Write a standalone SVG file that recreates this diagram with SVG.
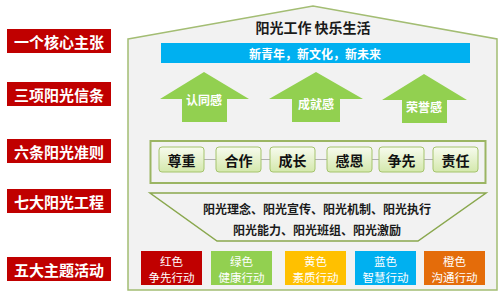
<svg xmlns="http://www.w3.org/2000/svg" width="502" height="294" viewBox="0 0 502 294">
<defs>
<linearGradient id="pg" x1="0" y1="0" x2="0" y2="1">
<stop offset="0" stop-color="#f7fbee"/>
<stop offset="1" stop-color="#d4e8ac"/>
</linearGradient>
</defs>
<style>
text{font-family:"Noto Sans CJK SC","Noto Sans",sans-serif;text-anchor:middle;dominant-baseline:central}
.lab rect{fill:#c00000}
.lab text{fill:#fff;font-size:15px;font-weight:bold}
.arrow polygon{fill:#92d050}
.arrow text{fill:#fff;font-size:12px;font-weight:bold}
.pr rect{fill:url(#pg);stroke:#a5c46d;stroke-width:1}
.pr text{fill:#111;font-size:14px;font-weight:bold}
.act text{fill:#fff;font-size:11.5px}
.dark{fill:#1a1a1a;font-weight:bold}
</style>
<rect width="502" height="294" fill="#fff"/>
<g id="house">
<polygon points="128,39 313,6 497,39 497,290 128,290" fill="#f2f2f2" stroke="#a3bd73" stroke-width="1.5"/>
<text x="313" y="27" class="dark" font-size="14">阳光工作 快乐生活</text>
</g>
<g id="labels">
<g id="l1" class="lab"><rect x="7" y="29" width="104" height="24"/><text x="59" y="41">一个核心主张</text></g>
<g id="l2" class="lab"><rect x="7" y="82" width="104" height="24"/><text x="59" y="94">三项阳光信条</text></g>
<g id="l3" class="lab"><rect x="7" y="139" width="104" height="24"/><text x="59" y="151">六条阳光准则</text></g>
<g id="l4" class="lab"><rect x="7" y="189" width="104" height="24"/><text x="59" y="201">七大阳光工程</text></g>
<g id="l5" class="lab"><rect x="7" y="257" width="104" height="24"/><text x="59" y="269">五大主题活动</text></g>
</g>
<g id="banner">
<rect x="161" y="43" width="309" height="20" fill="#00b0f0"/>
<text x="315" y="53" fill="#fff" font-size="12" font-weight="bold">新青年，新文化，新未来</text>
</g>
<g id="a1" class="arrow"><polygon points="204,72 249,99 227,99 227,122 182,122 182,99 160,99"/><text x="204" y="99">认同感</text></g>
<g id="a2" class="arrow"><polygon points="316,72 363,99 340,99 340,122 292,122 292,99 269,99"/><text x="316" y="103">成就感</text></g>
<g id="a3" class="arrow"><polygon points="424,74 467,100 447,100 447,123 402,123 402,100 382,100"/><text x="424" y="106">荣誉感</text></g>
<g id="principles-frame">
<rect x="150.5" y="141" width="335" height="42" fill="#f2f2f2" stroke="#9bb563" stroke-width="2"/>
</g>
<g id="connectors" stroke="#b0b0b0" stroke-width="1">
<line x1="204" y1="159.5" x2="216" y2="159.5"/>
<line x1="261" y1="159.5" x2="270" y2="159.5"/>
<line x1="315" y1="159.5" x2="327" y2="159.5"/>
<line x1="372" y1="159.5" x2="379" y2="159.5"/>
<line x1="424" y1="159.5" x2="433" y2="159.5"/>
</g>
<g id="p1" class="pr"><rect x="159" y="147" width="45" height="25" rx="3"/><text x="181.5" y="159.5">尊重</text></g>
<g id="p2" class="pr"><rect x="216" y="147" width="45" height="25" rx="3"/><text x="238.5" y="159.5">合作</text></g>
<g id="p3" class="pr"><rect x="270" y="147" width="45" height="25" rx="3"/><text x="292.5" y="159.5">成长</text></g>
<g id="p4" class="pr"><rect x="327" y="147" width="45" height="25" rx="3"/><text x="349.5" y="159.5">感恩</text></g>
<g id="p5" class="pr"><rect x="379" y="147" width="45" height="25" rx="3"/><text x="401.5" y="159.5">争先</text></g>
<g id="p6" class="pr"><rect x="433" y="147" width="45" height="25" rx="3"/><text x="455.5" y="159.5">责任</text></g>
<g id="projects">
<polygon points="150,193 486,193 418,241 217,241" fill="#f2f2f2" stroke="#8aa84e" stroke-width="1.5"/>
<text x="317" y="208" class="dark" font-size="12">阳光理念、阳光宣传、阳光机制、阳光执行</text>
<text x="317" y="229" class="dark" font-size="12">阳光能力、阳光班组、阳光激励</text>
</g>
<g id="b1" class="act"><rect x="141" y="251" width="61" height="34" fill="#c00000"/><text x="171.5" y="260.5">红色</text><text x="171.5" y="276.5">争先行动</text></g>
<g id="b2" class="act"><rect x="211" y="251" width="61" height="34" fill="#92d050"/><text x="241.5" y="260.5">绿色</text><text x="241.5" y="276.5">健康行动</text></g>
<g id="b3" class="act"><rect x="285" y="251" width="61" height="34" fill="#ffc000"/><text x="315.5" y="260.5">黄色</text><text x="315.5" y="276.5">素质行动</text></g>
<g id="b4" class="act"><rect x="355" y="251" width="61" height="34" fill="#00b0f0"/><text x="385.5" y="260.5">蓝色</text><text x="385.5" y="276.5">智慧行动</text></g>
<g id="b5" class="act"><rect x="424" y="251" width="61" height="34" fill="#e46c0a"/><text x="454.5" y="260.5">橙色</text><text x="454.5" y="276.5">沟通行动</text></g>
</svg>
